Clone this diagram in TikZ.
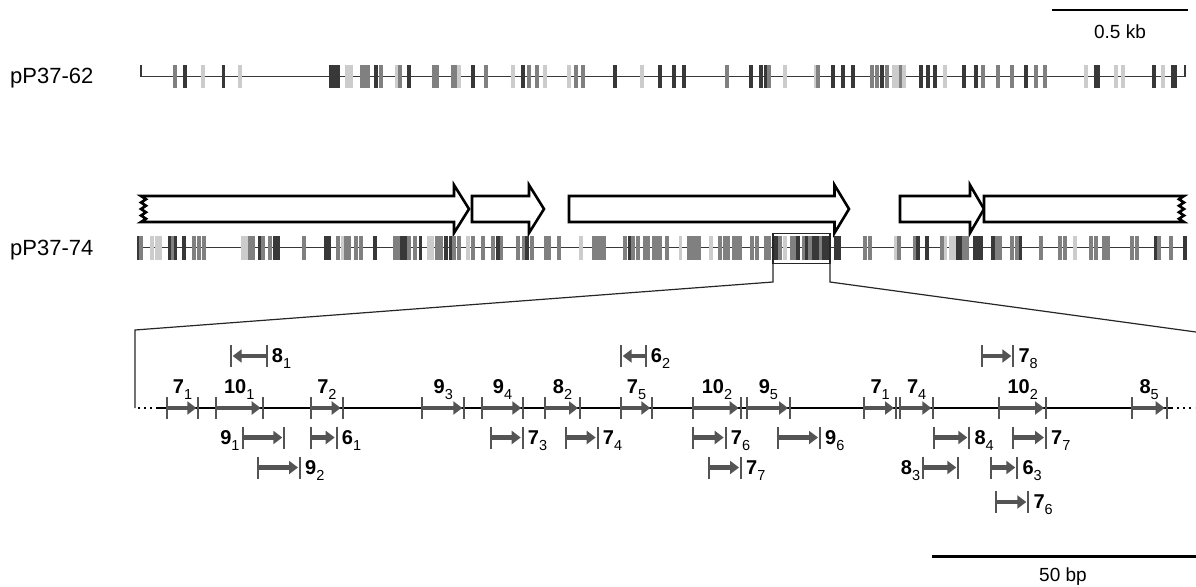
\documentclass[tikz,border=0pt]{standalone}
\usepackage{fontspec}
\setmainfont{Liberation Sans}
\usetikzlibrary{arrows.meta,calc}
\definecolor{dk}{gray}{0.22}
\definecolor{md}{gray}{0.5}
\definecolor{lt}{gray}{0.8}
\definecolor{fg}{gray}{0.33}
\newcommand\lb[2]{\textbf{#1}\raisebox{-6pt}{\fontsize{14.5}{14.5}\selectfont #2}}
\newcommand\fcoords[4]{\coordinate (#1s) at (#2,#4); \coordinate (#1e) at (#3,#4);}
\newcommand\fticks[1]{%
  \draw[tk] ([yshift=11pt]#1s) -- ([yshift=-11pt]#1s);
  \draw[tk] ([yshift=11pt]#1e) -- ([yshift=-11pt]#1e);}
\newcommand\onaxis[5]{\fcoords{#1}{#2}{#3}{408}\fticks{#1}
  \draw[feat] (#1s) -- ([xshift=-2pt]#1e);
  \node[lab,anchor=base] (#1t) at ($(#1s)!.5!(#1e)+(0,-15)$) {\lb{#4}{#5}};}
\newcommand\rr[6]{\fcoords{#1}{#2}{#3}{#4}\fticks{#1}
  \draw[feat] (#1s) -- ([xshift=-2pt]#1e);
  \node[lab,anchor=base west] (#1t) at ([xshift=5pt,yshift=-6.5pt]#1e) {\lb{#5}{#6}};}
\newcommand\rl[6]{\fcoords{#1}{#2}{#3}{#4}\fticks{#1}
  \draw[feat] (#1s) -- ([xshift=-2pt]#1e);
  \node[lab,anchor=base east] (#1t) at ([xshift=-3pt,yshift=-6.5pt]#1s) {\lb{#5}{#6}};}
\newcommand\lr[6]{\fcoords{#1}{#2}{#3}{#4}\fticks{#1}
  \draw[feat] (#1e) -- ([xshift=2pt]#1s);
  \node[lab,anchor=base west] (#1t) at ([xshift=5pt,yshift=-6.5pt]#1e) {\lb{#5}{#6}};}
\begin{document}
\begin{tikzpicture}[x=1pt,y=-1pt,
  orf/.style={draw=black,line width=2.6pt,fill=white,line join=miter},
  trackline/.style={draw=dk,line width=1.8pt},
  tk/.style={draw=fg,line width=1.8pt},
  feat/.style={draw=fg,line width=4.5pt,-{Triangle[length=9pt,width=13pt]}},
  lab/.style={font=\fontsize{20}{23}\selectfont,inner sep=0pt},
  trk/.style={font=\fontsize{22}{25}\selectfont,inner sep=0pt},
  sbl/.style={font=\fontsize{19}{22}\selectfont,inner sep=0pt},
  scalebar/.style={draw=black,line width=2.6pt},
  zoomline/.style={draw=black!85,line width=1.2pt}]
\useasboundingbox (0,0) rectangle (1196,586);

% scale bar 0.5 kb
\coordinate (sbA) at (1052,10);
\coordinate (sbB) at (1188,10);
\draw[scalebar] (sbA) -- (sbB);
\node[sbl,anchor=base] (sbT) at (1120,38) {0.5 kb};

% ---------- pP37-62
\node[trk,anchor=base west] (t62) at (10,84) {pP37-62};
\coordinate (L62a) at (141,65);
\coordinate (L62b) at (141,76.5);
\coordinate (L62c) at (1185,76.5);
\coordinate (L62d) at (1185,65);
\draw[trackline] (L62a) -- (L62b) -- (L62c) -- (L62d);
\foreach \x/\c in {175/md,185/dk,203/lt,223.5/dk,240/lt,
 331/dk,334/dk,338/dk,347/lt,351/lt,362/md,365/md,368/md,376/dk,381/md,397/lt,400/md,409/dk,
 434/md,437/md,453/md,456/md,459/lt,473/dk,486/md,513/lt,523/dk,529/md,537/md,545/lt,
 569/lt,576/md,583/md,615/dk,642/lt,660/dk,
 674/dk,684/dk,727/md,751/dk,761/dk,766/dk,769/md,785/lt,816/lt,818/md,833/dk,843/dk,853/dk,
 872/md,877/md,882/dk,887/md,894/lt,898/lt,901/md,904/lt,921/dk,928/dk,935/dk,945/lt,
 964/dk,976/dk,983/md,998/md,1012/md,1026/dk,1036/md,1045/md,1086/lt,1096/dk,1098/dk,
 1116/lt,1123/lt,1154/dk,1163/lt,1173/dk,1175/dk}
 {\fill[\c] (\x-1.7,65) rectangle (\x+1.7,88);}

% ---------- ORF arrows
\draw[orf] (141,196) -- (454,196) -- (454,185) -- (469,209) -- (454,233) -- (454,222) -- (141,222)
  \foreach \i in {1,...,7} { -- ({141+5*mod(\i,2)},{222-\i*26/8}) } -- cycle;
\draw[orf] (472,196) -- (529,196) -- (529,185) -- (544,209) -- (529,233) -- (529,222) -- (472,222) -- cycle;
\draw[orf] (569,196) -- (834.5,196) -- (834.5,185) -- (849,209) -- (834.5,233) -- (834.5,222) -- (569,222) -- cycle;
\draw[orf] (900,196) -- (970,196) -- (970,185) -- (984,209) -- (970,233) -- (970,222) -- (900,222) -- cycle;
\draw[orf] (984,196) -- (1184,196)
  \foreach \i in {1,...,7} { -- ({1184-5*mod(\i,2)},{196+\i*26/8}) } -- (1184,222) -- (984,222) -- cycle;

% ---------- pP37-74
\node[trk,anchor=base west] (t74) at (10,255) {pP37-74};
\coordinate (L74a) at (139,247.5);
\coordinate (L74b) at (1185,247.5);
\draw[trackline] (L74a) -- (L74b);
\foreach \x/\c in {139/dk,141/md,152/lt,157/lt,160/lt,170/dk,173/md,175.5/dk,184/dk,194/md,199/md,204/md,
 243/lt,246.5/lt,250/md,253/md,260/dk,263/md,270/md,275/dk,278.6/dk,304/md,326/dk,329/dk,338/md,343/lt,
 346/md,349.5/md,356/md,361/md,375/dk,395/md,398.5/md,402/dk,405/dk,409/md,415/md,420.5/dk,429/lt,432/lt,
 437/md,441/md,446/dk,451/dk,454/md,459/md,468/lt,473/md,483/md,493/md,498/dk,501.5/md,518/md,523.5/md,
 527/dk,532/md,545.5/md,549/md,559/md,581/lt,594/md,597/md,601/md,604.6/md,625/md,630/dk,633/md,638/md,
 645/md,648.5/md,653.6/md,657/md,660/md,
 667/md,680.5/lt,689/md,692.5/md,696/md,699/md,711/lt,720/md,725/md,728/md,733.5/md,737/md,740/md,
 752/md,757/md,766/md,769/md,776/dk,780/md,785/lt,792/md,795/md,798/dk,803.6/md,807/dk,810/md,814/dk,
 817/dk,820.7/md,824/dk,827.5/dk,836/dk,839.5/dk,865/md,870/md,896/lt,899/md,915/md,918/dk,927/dk,
 942/md,945.5/lt,950.6/lt,954/lt,957.4/dk,961/dk,964/md,967.7/md,974.5/dk,978/dk,981/dk,993/dk,997/md,
 1000/md,1012/md,1017/md,1020.7/dk,1041/md,1060/md,1065/md,1075/lt,1091/md,1096/md,1104/md,1108/md,
 1132/md,1137/md,1156/dk,1159/md,1171/md,1185/dk}
 {\fill[\c] (\x-1.6,236) rectangle (\x+1.6,260);}

% ---------- zoom box and expansion lines
\coordinate (bxA) at (773,233.5);
\coordinate (bxB) at (830,263.5);
\draw[zoomline] (bxA) rectangle (bxB);
\coordinate (bxL) at (773,282);
\coordinate (bxR) at (830,282);
\coordinate (zl) at (135,330);
\coordinate (zr) at (1196,332);
\coordinate (axL) at (135,408);
\draw[zoomline] (773,263.5) -- (bxL) -- (zl) -- (axL);
\draw[zoomline] (830,263.5) -- (bxR) -- (zr);

% ---------- expanded axis
\coordinate (axS) at (156,408);
\coordinate (axE) at (1173,408);
\coordinate (axR) at (1195,408);
\draw[draw=black,line width=2.2pt] (axS) -- (axE);
\draw[draw=black,line width=2.2pt,dash pattern=on 2pt off 4pt] ([xshift=3pt]axL) -- (axS);
\draw[draw=black,line width=2.2pt,dash pattern=on 2pt off 4pt] ([xshift=4pt]axE) -- (axR);

\onaxis{a1}{166.7}{198.3}{7}{1}
\onaxis{a2}{215.7}{262.7}{10}{1}
\onaxis{a3}{311}{342.7}{7}{2}
\onaxis{a4}{422.3}{464.3}{9}{3}
\onaxis{a5}{481.7}{523.3}{9}{4}
\onaxis{a6}{545}{580}{8}{2}
\onaxis{a7}{620.7}{652.3}{7}{5}
\onaxis{a8}{693.3}{740.7}{10}{2}
\onaxis{a9}{746.7}{790}{9}{5}
\onaxis{a10}{864.3}{896}{7}{1}
\onaxis{a11}{900}{933.3}{7}{4}
\onaxis{a12}{999.3}{1046}{10}{2}
\onaxis{a13}{1131.7}{1166.7}{8}{5}

\lr{u1}{230.7}{266.7}{356}{8}{1}
\lr{u2}{620.7}{645.7}{356}{6}{2}
\rr{u3}{981.7}{1013.3}{356}{7}{8}

\rl{b1}{242.7}{284.3}{437.5}{9}{1}
\rr{b2}{311}{336.7}{437.5}{6}{1}
\rr{b3}{490.7}{522.7}{437.5}{7}{3}
\rr{b4}{566}{597.7}{437.5}{7}{4}
\rr{b5}{693.3}{725.7}{437.5}{7}{6}
\rr{b6}{778.3}{820}{437.5}{9}{6}
\rr{b7}{934}{969.3}{437.5}{8}{4}
\rr{b8}{1013.3}{1046}{437.5}{7}{7}

\rr{c1}{258.3}{300}{467.5}{9}{2}
\rr{c2}{709.3}{741}{467.5}{7}{7}
\rl{c3}{923.3}{958.3}{467.5}{8}{3}
\rr{c4}{990.7}{1017.3}{467.5}{6}{3}

\rr{d1}{995.7}{1028.3}{502}{7}{6}

% scale bar 50 bp
\coordinate (sbC) at (932,556.5);
\coordinate (sbD) at (1196,556.5);
\draw[scalebar] (sbC) -- (sbD);
\node[sbl,anchor=base] (sbU) at (1063,581) {50 bp};
\end{tikzpicture}
\end{document}
